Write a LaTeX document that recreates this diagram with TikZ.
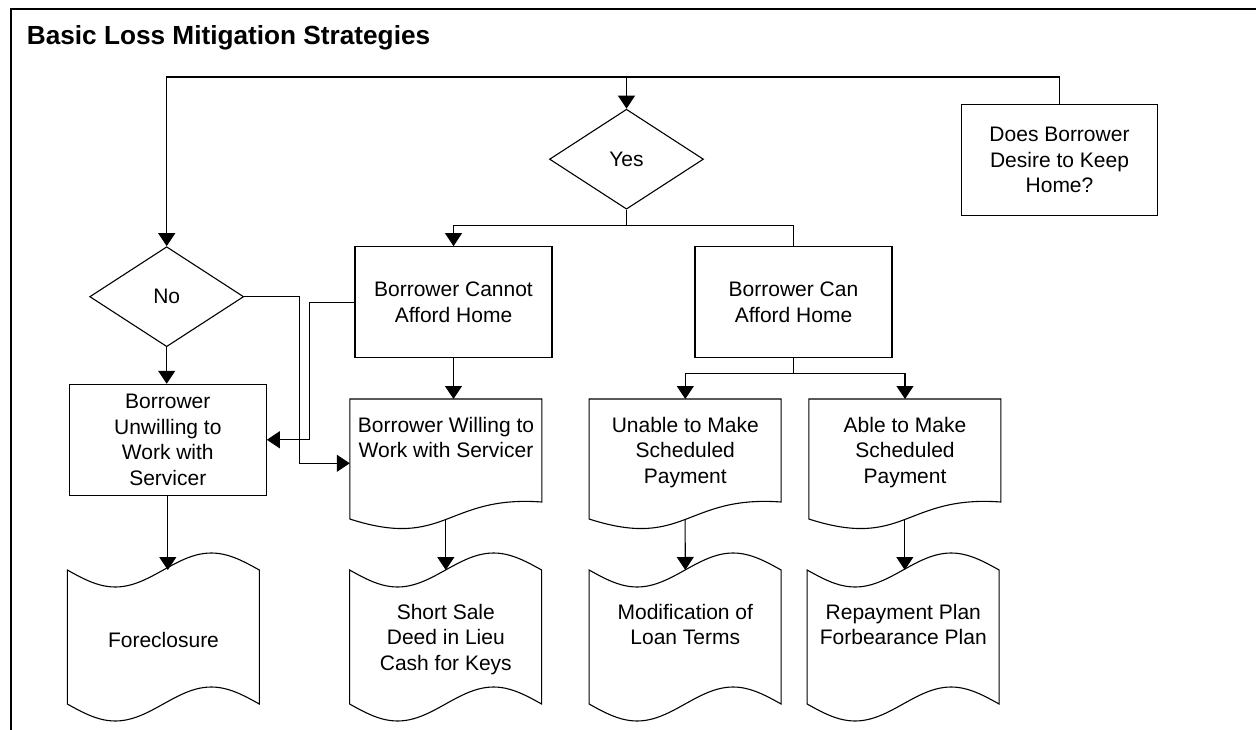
\documentclass[tikz,border=0pt]{standalone}
\usepackage{fontspec}
\setmainfont{Liberation Sans}
\usetikzlibrary{shapes.geometric, arrows.meta, calc}

\tikzset{
  wire/.style={line width=1.1pt},
  arr/.style={wire, -{Triangle[length=13pt,width=17pt]}},
  box/.style={wire, draw, minimum width=197pt, minimum height=111pt, inner sep=0pt, align=center},
  choice/.style={wire, draw, diamond, minimum width=154pt, minimum height=100pt, inner sep=0pt},
  docbox/.style={anchor=north, minimum width=192pt, inner xsep=0pt, inner ysep=18pt, align=center},
  tapebox/.style={anchor=north, minimum width=192pt, inner xsep=0pt, inner ysep=34pt, align=center},
}

\begin{document}
\begin{tikzpicture}[x=1pt, y=-1pt, font=\fontsize{21}{25.5}\selectfont]
\useasboundingbox (0,0) rectangle (1256,730);
% frame and title
\draw[wire] (1256,9) -- (11,9) -- (11,730);
\node[anchor=base west, inner sep=0pt, font=\fontsize{26.2}{31}\selectfont\bfseries] (title) at (26.7,44.5) {Basic Loss Mitigation Strategies};

% decisions and boxes
\node[box, minimum width=196pt] (keep) at (1059.5,160.3) {Does Borrower\\Desire to Keep\\Home?};
\node[choice] (yes) at (626.5,159.2) {Yes};
\node[choice] (no) at (166.7,296.7) {No};
\node[box] (cannot) at (453.5,302.2) {Borrower Cannot\\Afford Home};
\node[box] (can) at (793.5,302.2) {Borrower Can\\Afford Home};
\node[box] (unwilling) at (167.8,439.8) {Borrower\\Unwilling to\\Work with\\Servicer};

% documents
\node[docbox] (willing) at (446,399) {Borrower Willing to\\Work with Servicer};
\node[docbox] (unable) at (685.3,399) {Unable to Make\\Scheduled\\Payment};
\node[docbox] (able) at (905,399) {Able to Make\\Scheduled\\Payment};
\foreach \n in {willing,unable,able}
  \draw[wire, shift={(\n.north west)}] (0,0) -- (192,0) -- (192,103)
    .. controls (96,96) and (96,151) .. (0,120) -- cycle
    (96,120.5) coordinate (\n-out);

% punched tapes
\node[tapebox, inner ysep=62pt] (fore) at (163.5,570) {Foreclosure};
\node[tapebox] (sale) at (445.8,570) {Short Sale\\Deed in Lieu\\Cash for Keys};
\node[tapebox] (modif) at (685.3,570) {Modification of\\Loan Terms};
\node[tapebox] (repay) at (903.3,570) {Repayment Plan\\Forbearance Plan};
\foreach \n in {fore,sale,modif,repay}
  \draw[wire, shift={(\n.north west)}]
    plot[domain=0:192, samples=49, smooth] (\x,{17*sin(\x*1.875)})
    -- plot[domain=192:0, samples=49, smooth] (\x,{134+17*sin(\x*1.875)}) -- cycle;

% connectors
\coordinate (bus) at (0,77);
\draw[arr] (keep.north) -- (keep.north |- bus) -| (no.north);
\draw[arr] (yes.north |- bus) -- (yes.north);
\draw[arr] (yes.south) -- ++(0,16) coordinate (fork) -| (cannot.north);
\draw[wire] (fork) -| (can.north);
\draw[arr] (no.south) -- (no.south |- unwilling.north);
\draw[arr] (no.east) -- ++(55.5,0) |- ($(willing.north west)+(0,64.3)$);
\draw[arr] (cannot.west) -- ++(-45,0) |- (unwilling.east);
\draw[arr] (cannot.south) -- (cannot.south |- willing.north);
\draw[arr] (can.south) -- ++(0,15) coordinate (split) -| (unable.north);
\draw[arr] (split) -| (able.north);
\draw[arr] (unwilling.south) -- (unwilling.south |- fore.north);
\draw[arr] (willing-out) -- (sale.north);
\draw[arr] (unable-out) -- (modif.north);
\draw[arr] (able-out) -- (able-out |- repay.north);
\end{tikzpicture}
\end{document}
